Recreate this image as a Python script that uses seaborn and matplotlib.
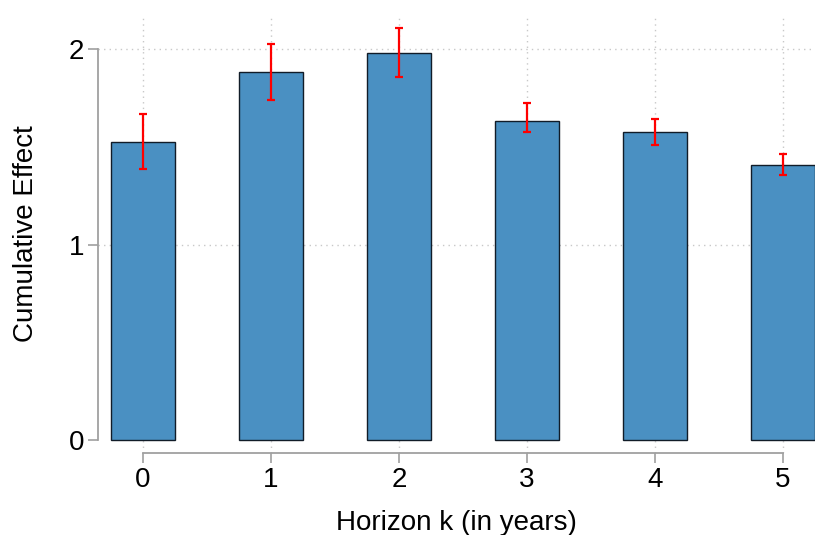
import numpy as np
import pandas as pd
import matplotlib
matplotlib.use("Agg")
import matplotlib.pyplot as plt
import seaborn as sns

horizons = [0, 1, 2, 3, 4, 5]
effect = [1.526, 1.881, 1.980, 1.632, 1.575, 1.405]
ci_low = [1.386, 1.739, 1.857, 1.575, 1.511, 1.354]
ci_high = [1.668, 2.026, 2.107, 1.724, 1.640, 1.461]

sns.set_theme(style="white")
plt.rcParams["font.family"] = ["Liberation Sans", "DejaVu Sans"]
plt.rcParams["text.color"] = "black"
plt.rcParams["axes.labelcolor"] = "black"

df = pd.DataFrame({"k": horizons, "effect": effect})

fig = plt.figure(figsize=(8.15, 5.35), dpi=100)
ax = fig.add_axes([98 / 815, 82 / 535, 717 / 815, 438 / 535])

sns.barplot(data=df, x="k", y="effect", order=horizons, color="#4a90c2",
            saturation=1, width=0.5, edgecolor="#111c28", linewidth=1.0,
            errorbar=None, ax=ax, zorder=3)

pos = np.arange(len(horizons))
eff = np.array(effect)
yerr = np.vstack([eff - np.array(ci_low), np.array(ci_high) - eff])
ax.errorbar(pos, eff, yerr=yerr, fmt="none", ecolor="#ff0000",
            elinewidth=1.6, capsize=3.2, capthick=1.6, zorder=4)

ax.set_xlim(-0.351, 5.25)
ax.set_ylim(-0.066, 2.174)
ax.set_yticks([0, 1, 2])
ax.set_xticks(pos)
ax.set_xticklabels([str(h) for h in horizons])

# dotted reference grid
for y in [1, 2]:
    ax.axhline(y, color="#c8c8c8", linestyle=(0, (1, 3)), linewidth=1.0, zorder=1)
for x in pos:
    ax.axvline(x, color="#c8c8c8", linestyle=(0, (1, 3)), linewidth=1.0, zorder=1)

for s in ["top", "right"]:
    ax.spines[s].set_visible(False)
for s in ["left", "bottom"]:
    ax.spines[s].set_color("#a0a0a0")
    ax.spines[s].set_linewidth(1.3)
ax.spines["left"].set_bounds(0, 2)
ax.spines["bottom"].set_bounds(0, 5)

ax.tick_params(axis="both", which="major", length=7, width=1.2, color="#a0a0a0",
               labelsize=20, labelcolor="black", pad=3,
               left=True, bottom=True)

ax.set_xlabel("Horizon k (in years)", fontsize=20, labelpad=12, color="black")
ax.set_ylabel("Cumulative Effect", fontsize=20, labelpad=21, color="black")

fig.savefig("out.png", dpi=100)
